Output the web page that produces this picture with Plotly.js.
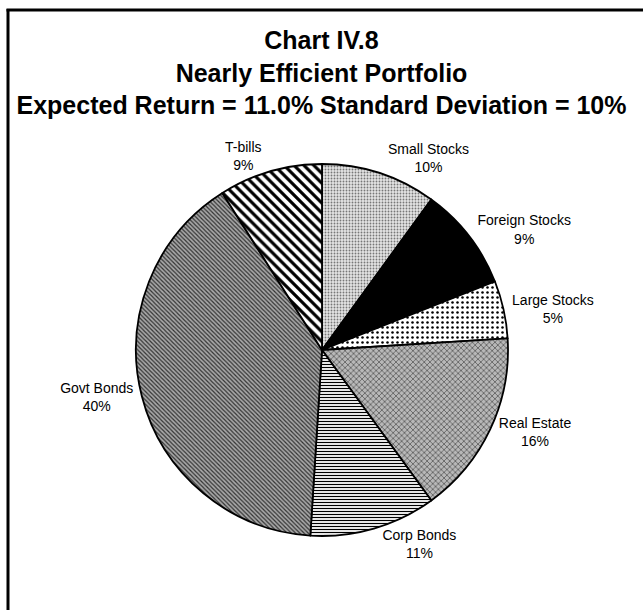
<!DOCTYPE html>
<html>
<head>
<meta charset="utf-8">
<script src="https://cdn.plot.ly/plotly-3.0.1.min.js"></script>
<style>html,body{margin:0;padding:0;background:#fff;}#chart{width:643px;height:610px;}</style>
</head>
<body>
<div id="chart"></div>
<script>
const labels = ["Small Stocks", "Foreign Stocks", "Large Stocks", "Real Estate", "Corp Bonds", "Govt Bonds", "T-bills"];
const values = [10, 9, 5, 16, 11, 40, 9];
const titleLines = ["Chart IV.8", "Nearly Efficient Portfolio", "Expected Return = 11.0% Standard Deviation = 10%"];

const W = 643, H = 610;
const cx = 322, cy = 350, r = 186;

const trace = {
  type: "pie",
  labels: labels,
  values: values,
  sort: false,
  direction: "clockwise",
  rotation: 0,
  textposition: "outside",
  texttemplate: "%{label}<br>%{value}%",
  textfont: {family: "Liberation Sans, Arial, sans-serif", size: 14, color: "#000"},
  hoverinfo: "label+value",
  showlegend: false,
  domain: {x: [(cx - r) / W, (cx + r) / W], y: [(H - cy - r) / H, (H - cy + r) / H]},
  marker: {
    colors: ["#e4e4e4", "#000000", "#ffffff", "#b8b8b8", "#ffffff", "#a8a8a8", "#ffffff"],
    line: {color: "#000", width: 1.8},
    pattern: {
      shape: [".", "", ".", "x", "-", "\\", "\\"],
      fgcolor: ["#777777", "#000000", "#000000", "#444444", "#000000", "#333333", "#000000"],
      bgcolor: ["#e4e4e4", "#000000", "#ffffff", "#b8b8b8", "#ffffff", "#a8a8a8", "#ffffff"],
      size: [3, 8, 5, 4, 3, 3, 7],
      solidity: [0.3, 0.3, 0.2, 0.3, 0.4, 0.4, 0.45]
    }
  }
};

const layout = {
  width: W, height: H,
  margin: {l: 0, r: 0, t: 0, b: 0},
  paper_bgcolor: "#fff",
  font: {family: "Liberation Sans, Arial, sans-serif", color: "#000"},
  title: {
    text: "<b>" + titleLines.join("<br>") + "</b>",
    font: {family: "Liberation Sans, Arial, sans-serif", size: 25, color: "#000"},
    x: 0.5, xanchor: "center",
    y: 1 - 49 / H, yanchor: "top", yref: "container"
  },
  shapes: [
    {type: "line", xref: "paper", yref: "paper", x0: 8 / W, x1: 8 / W, y0: 0, y1: 1 - 9 / H, line: {color: "#000", width: 3}},
    {type: "line", xref: "paper", yref: "paper", x0: 6.5 / W, x1: 1, y0: 1 - 10 / H, y1: 1 - 10 / H, line: {color: "#000", width: 3}}
  ]
};

Plotly.newPlot("chart", [trace], layout, {staticPlot: true});
</script>
</body>
</html>
